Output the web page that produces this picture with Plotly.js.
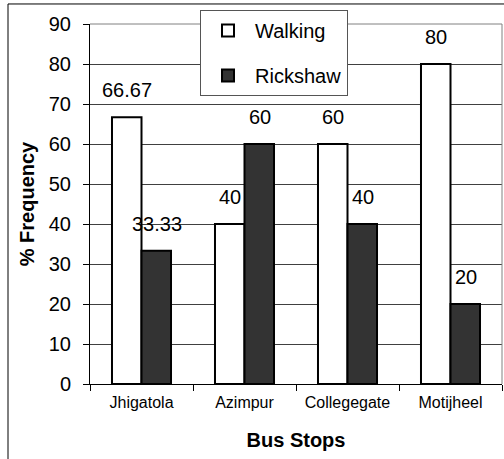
<!DOCTYPE html>
<html><head><meta charset="utf-8">
<script src="https://cdn.plot.ly/plotly-3.0.1.min.js"></script>
<style>html,body{margin:0;padding:0;background:#fff;}#chart{width:504px;height:459px;}</style>
</head><body><div id="chart"></div>
<script>
const stops = ["Jhigatola", "Azimpur", "Collegegate", "Motijheel"];
const walking = [66.67, 40, 60, 80];
const rickshaw = [33.33, 60, 40, 20];
const walkingLabels = ["66.67", "40", "60", "80"];
const rickshawLabels = ["33.33", "60", "40", "20"];
const yTicks = [0, 10, 20, 30, 40, 50, 60, 70, 80, 90];

const FONT = "Liberation Sans, Arial, sans-serif";

const traces = [
  {type: "bar", name: "Walking", x: stops, y: walking, legendgroup: "a",
   marker: {color: "#ffffff", line: {color: "#000000", width: 2}}},
  {type: "bar", name: "Rickshaw", x: stops, y: rickshaw, legendgroup: "b",
   marker: {color: "#333333", line: {color: "#000000", width: 2}}}
];

const annotations = [];
stops.forEach((s, i) => {
  annotations.push({x: i, y: walking[i], xref: "x", yref: "y", text: walkingLabels[i],
    showarrow: false, xshift: -15, yshift: 27, yanchor: "middle",
    font: {family: FONT, size: 20, color: "#000"}});
  annotations.push({x: i, y: rickshaw[i], xref: "x", yref: "y", text: rickshawLabels[i],
    showarrow: false, xshift: 15, yshift: 27, yanchor: "middle",
    font: {family: FONT, size: 20, color: "#000"}});
});

const layout = {
  width: 504, height: 459,
  margin: {l: 90, r: 2, t: 24, b: 75, pad: 0},
  paper_bgcolor: "#ffffff", plot_bgcolor: "#ffffff",
  font: {family: FONT, color: "#000"},
  barmode: "group", bargap: 0.427, bargroupgap: 0,
  showlegend: true,
  legend: {x: 0.267, y: 1.039, xanchor: "left", yanchor: "top",
    bgcolor: "#ffffff", bordercolor: "#555555", borderwidth: 1,
    font: {family: FONT, size: 20, color: "#000"},
    traceorder: "grouped", tracegroupgap: 16, itemwidth: 44,
    entrywidth: 120, entrywidthmode: "pixels"},
  xaxis: {type: "category", showline: true, linecolor: "#000", linewidth: 1,
    ticks: "outside", tickson: "boundaries", ticklen: 6, tickcolor: "#000",
    ticklabelstandoff: 4,
    tickfont: {family: FONT, size: 16, color: "#000"},
    title: {text: "<b>Bus Stops</b>", font: {family: FONT, size: 20, color: "#000"}, standoff: 22},
    automargin: false, fixedrange: true},
  yaxis: {range: [0, 90], tickvals: yTicks, showline: true, linecolor: "#000", linewidth: 1,
    ticks: "outside", ticklen: 6, tickcolor: "#000", ticklabelstandoff: 8,
    showgrid: true, gridcolor: "#404040", gridwidth: 1, zeroline: false,
    tickfont: {family: FONT, size: 20, color: "#000"},
    title: {text: "<b>% Frequency</b>", font: {family: FONT, size: 20, color: "#000"}, standoff: 8},
    automargin: false, fixedrange: true},
  shapes: [
    {type: "line", xref: "paper", yref: "paper", x0: 0, x1: 1, y0: 1, y1: 1,
     line: {color: "#808080", width: 1}, layer: "above"},
    {type: "line", xref: "paper", yref: "paper", x0: 1, x1: 1, y0: 0, y1: 1,
     line: {color: "#808080", width: 1}, layer: "above"},
    {type: "line", xref: "paper", yref: "paper", x0: -0.199, x1: -0.199, y0: -0.24, y1: 1.0556,
     line: {color: "#000000", width: 1}, layer: "above"},
    {type: "line", xref: "paper", yref: "paper", x0: -0.199, x1: 1.03, y0: 1.0556, y1: 1.0556,
     line: {color: "#000000", width: 1}, layer: "above"}
  ],
  annotations: annotations
};

Plotly.newPlot("chart", traces, layout, {staticPlot: true, displayModeBar: false});
</script></body></html>
